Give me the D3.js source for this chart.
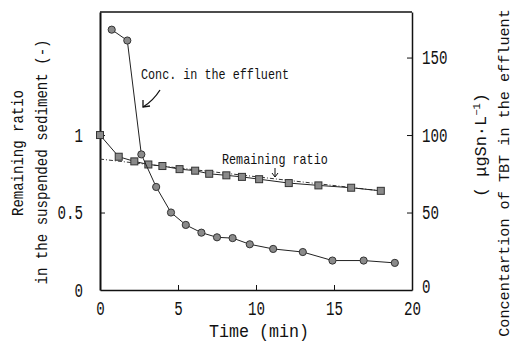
<!DOCTYPE html>
<html><head><meta charset="utf-8">
<script src="https://cdn.jsdelivr.net/npm/d3@7"></script>
<style>
html,body{margin:0;padding:0;background:#fff;}
svg{display:block;}
text{font-family:"Liberation Mono","DejaVu Sans Mono",monospace;fill:#111;}
</style></head>
<body>
<svg id="chart" width="517" height="347"></svg>
<script>
// ---- data ----
const ratioTime  = [0, 1.2, 2.2, 3.1, 4.0, 5.1, 6.1, 7.0, 8.1, 9.1, 10.2, 12.1, 14.0, 16.1, 18.0];
const ratioValue = [1.0, 0.86, 0.83, 0.81, 0.80, 0.78, 0.77, 0.75, 0.74, 0.73, 0.715, 0.69, 0.675, 0.66, 0.64];
const concTime   = [0.75, 1.75, 2.65, 3.6, 4.55, 5.5, 6.5, 7.5, 8.5, 9.6, 11.1, 13.0, 14.9, 16.9, 18.9];
const concValue  = [168, 161, 87.5, 66.5, 50, 42, 37, 34, 33.5, 29.5, 26.5, 24.5, 19, 19, 17.5];
const fitTime    = [0, 18];
const fitRatio   = [0.845, 0.64];
const xTicks     = [0, 5, 10, 15, 20];
const yLeftTicks = [0, 0.5, 1];
const yLeftLabels= ["0", "0.5", "1"];
const yRightTicks= [0, 50, 100, 150];

const svg = d3.select("#chart");
const X0 = 100, X1 = 412, Y0 = 290, Y1 = 12;
const x  = d3.scaleLinear().domain([0, 20]).range([X0, X1]);
const yL = d3.scaleLinear().domain([0, 1.794]).range([Y0, Y1]);
const yR = d3.scaleLinear().domain([0, 179.4]).range([Y0, Y1]);

function fit(sel, cw, fs) {
  sel.attr("font-size", fs)
     .attr("textLength", function(){ return this.textContent.length * cw; })
     .attr("lengthAdjust", "spacingAndGlyphs");
}

// axes
const gx = svg.append("g").attr("transform", `translate(0,${Y0})`)
  .call(d3.axisBottom(x).tickValues(xTicks).tickFormat(d3.format("d")).tickSize(-5).tickSizeOuter(0).tickPadding(11));
const gl = svg.append("g").attr("transform", `translate(${X0},0)`)
  .call(d3.axisLeft(yL).tickValues(yLeftTicks).tickFormat((d,i)=>yLeftLabels[i]).tickSize(-5).tickSizeOuter(0).tickPadding(17));
const gr = svg.append("g").attr("transform", `translate(${X1},0)`)
  .call(d3.axisRight(yR).tickValues(yRightTicks).tickFormat(d3.format("d")).tickSize(-5).tickSizeOuter(0).tickPadding(10));
[gx, gl, gr].forEach(g => {
  g.selectAll("path.domain").attr("stroke", "#111");
  g.selectAll(".tick line").attr("stroke", "#111");
  g.selectAll("text").attr("font-family", null).attr("fill", "#111");
  fit(g.selectAll("text"), 8.5, 20);
});
gl.select("path.domain").attr("stroke-width", 2);
gx.select("path.domain").attr("stroke-width", 1.5);
gr.select("path.domain").attr("stroke-width", 1.5);
gx.selectAll(".tick").filter(d => d === 0 || d === 20).select("line").remove();
gr.selectAll(".tick").filter(d => d === 0).select("line").remove();
gr.selectAll(".tick").filter(d => d === 0).select("text").attr("dy", "0.1em");
gl.selectAll(".tick").filter(d => d === 0).select("line").remove();
// top frame
svg.append("line").attr("x1", X0).attr("x2", X1).attr("y1", Y1).attr("y2", Y1)
  .attr("stroke", "#111").attr("stroke-width", 1.3);

// fitted line (dash-dot)
const fitData = fitTime.map((t,i)=>[t, fitRatio[i]]);
svg.append("path").datum(fitData)
  .attr("d", d3.line().x(d=>x(d[0])).y(d=>yL(d[1])))
  .attr("fill","none").attr("stroke","#333").attr("stroke-width",1)
  .attr("stroke-dasharray","4,2,1,2");

// remaining ratio series
const rData = ratioTime.map((t,i)=>[t, ratioValue[i]]);
svg.append("path").datum(rData)
  .attr("d", d3.line().x(d=>x(d[0])).y(d=>yL(d[1])))
  .attr("fill","none").attr("stroke","#222").attr("stroke-width",1);
svg.selectAll("rect.sq").data(rData).enter().append("rect")
  .attr("class","sq")
  .attr("x", d=>x(d[0])-3.5).attr("y", d=>yL(d[1])-3.5)
  .attr("width",7).attr("height",7)
  .attr("fill","#8a8a8a").attr("stroke","#333").attr("stroke-width",1);

// concentration series
const cData = concTime.map((t,i)=>[t, concValue[i]]);
svg.append("path").datum(cData)
  .attr("d", d3.line().x(d=>x(d[0])).y(d=>yR(d[1])))
  .attr("fill","none").attr("stroke","#222").attr("stroke-width",1);
svg.selectAll("circle.pt").data(cData).enter().append("circle")
  .attr("class","pt")
  .attr("cx", d=>x(d[0])).attr("cy", d=>yR(d[1])).attr("r",3.6)
  .attr("fill","#8a8a8a").attr("stroke","#333").attr("stroke-width",1);

// annotations
const a1 = svg.append("text").attr("x",141).attr("y",79).text("Conc. in the effluent");
fit(a1, 7.05, 15);
svg.append("path").attr("d","M160,90 Q153,101 143,107")
  .attr("fill","none").attr("stroke","#111").attr("stroke-width",1.3);
svg.append("path").attr("d","M143,100 L143,107 L150,106")
  .attr("fill","none").attr("stroke","#111").attr("stroke-width",1.3);

const a2 = svg.append("text").attr("x",222).attr("y",164).text("Remaining ratio");
fit(a2, 7.05, 15);
svg.append("path").attr("d","M275,168 L275,177 M272,173 L275,177 L278,173")
  .attr("fill","none").attr("stroke","#111").attr("stroke-width",1);

// axis titles
const tx = svg.append("text").attr("x",259).attr("y",337).attr("text-anchor","middle").text("Time (min)");
fit(tx, 10, 19);

const l1 = svg.append("text").attr("transform","translate(23,153) rotate(-90)")
  .attr("text-anchor","middle").text("Remaining ratio");
fit(l1, 8.4, 16);
const l2 = svg.append("text").attr("transform","translate(47,162) rotate(-90)")
  .attr("text-anchor","middle").text("in the suspended sediment (-)");
fit(l2, 8.45, 16);

const r1 = svg.append("text").attr("transform","translate(509,173) rotate(-90)")
  .attr("text-anchor","middle").text("Concentartion of TBT in the effluent");
fit(r1, 9.1, 15);
const r2 = svg.append("text").attr("transform","translate(486,145) rotate(-90)")
  .attr("text-anchor","middle").attr("font-size",16)
  .attr("textLength", 104).attr("lengthAdjust","spacingAndGlyphs");
r2.append("tspan").text("( μgSn·L");
r2.append("tspan").attr("font-size",10).attr("dy",-6).text("−1");
r2.append("tspan").attr("dy",6).text(")");
</script>
</body></html>
